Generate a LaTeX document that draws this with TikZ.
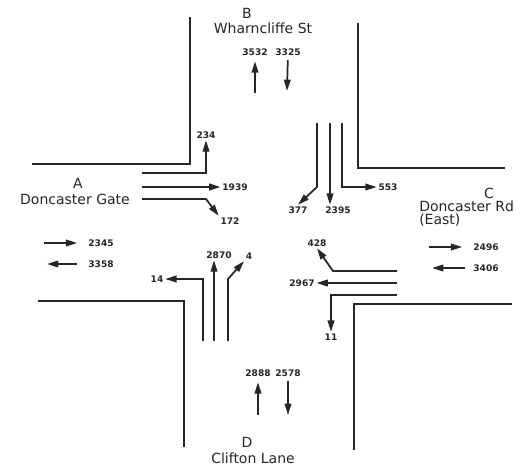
\documentclass[tikz,border=0pt]{standalone}
\usepackage{fontspec}
\setmainfont{DejaVu Sans}
\usetikzlibrary{arrows.meta}
\definecolor{cink}{HTML}{262626}
\tikzset{
  kerb/.style={line width=1.4pt, color=cink},
  flow/.style={-{Triangle[length=8.5pt,width=5pt]}, line width=1.3pt, color=cink},
  count/.style={inner sep=1.2pt, text=cink, font=\bfseries\fontsize{6.8}{8}\selectfont},
  roadname/.style={inner sep=0pt, text=cink, font=\fontsize{10.5}{12}\selectfont}
}

\begin{document}
\begin{tikzpicture}[x=0.75pt, y=-0.75pt]
    \useasboundingbox (0,0) rectangle (521,467);

    \draw[kerb] (190,17) -- (190,164) -- (32,164);
    \draw[kerb] (358,23) -- (358,168) -- (505,168);
    \draw[kerb] (38,301) -- (184,301) -- (184,447);
    \draw[kerb] (512,304) -- (354,304) -- (354,450);

    \node[roadname] (letA) at (78,183) {A};
    \node[roadname] (nameA) at (75,199) {Doncaster Gate};
    \node[roadname] (letB) at (247,13) {B};
    \node[roadname] (nameB) at (263,28) {Wharncliffe St};
    \node[roadname] (letC) at (489,193) {C};
    \node[roadname, anchor=west] (nameC) at (419,206) {Doncaster Rd};
    \node[roadname, anchor=west] (subC) at (419,220) {(East)};
    \node[roadname] (letD) at (247,442) {D};
    \node[roadname] (nameD) at (253,458) {Clifton Lane};

    \node[count] (ain) at (101,243) {2345};
    \node[count] (aout) at (101,264) {3358};
    \node[count] (bout) at (255,52) {3532};
    \node[count] (bin) at (288,52) {3325};
    \node[count] (cout) at (486,247) {2496};
    \node[count] (cin) at (486,268) {3406};
    \node[count] (din) at (258,373) {2888};
    \node[count] (dout) at (288,373) {2578};

    \node[count] (aleft) at (206,135) {234};
    \node[count] (aahead) at (235,187) {1939};
    \node[count] (aright) at (230,221) {172};
    \node[count] (bright) at (298,210) {377};
    \node[count] (bahead) at (338,210) {2395};
    \node[count] (bleft) at (388,187) {553};
    \node[count] (cright) at (317,243) {428};
    \node[count] (cahead) at (302,283) {2967};
    \node[count] (cleft) at (331,337) {11};
    \node[count] (dleft) at (157,279) {14};
    \node[count] (dahead) at (219,255) {2870};
    \node[count] (dright) at (249,256) {4};

    \coordinate (a1) at (142,173);
    \coordinate (a2) at (142,187);
    \coordinate (a3) at (142,199);
    \coordinate (b1) at (317,123);
    \coordinate (b2) at (330,123);
    \coordinate (b3) at (342,123);
    \coordinate (c1) at (397,271);
    \coordinate (c2) at (397,283);
    \coordinate (c3) at (397,295);
    \coordinate (d1) at (203,341);
    \coordinate (d2) at (214,341);
    \coordinate (d3) at (228,341);

    \coordinate (ain0) at (44,243);
    \coordinate (aout0) at (47,264);
    \coordinate (bout0) at (255,93);
    \coordinate (bin0) at (287,91);
    \coordinate (cout0) at (429,247);
    \coordinate (cin0) at (432,268);
    \coordinate (din0) at (258,415);
    \coordinate (dout0) at (288,415);

    \draw[flow] (a1) -| (aleft.south);
    \draw[flow] (a2) -- (aahead);
    \draw[flow] (a3) -- (206,199) -- (aright.north west);
    \draw[flow] (b1) -- (317,187) -- (bright.north);
    \draw[flow] (b2) -- (b2 |- bahead.north);
    \draw[flow] (b3) |- (bleft);
    \draw[flow] (c1) -- (333,271) -- (cright.south);
    \draw[flow] (c2) -- (cahead);
    \draw[flow] (c3) -| (cleft);
    \draw[flow] (d1) |- (dleft);
    \draw[flow] (d2) -- (d2 |- dahead.south);
    \draw[flow] (d3) -- (228,279) -- (dright.south west);

    \draw[flow, shorten >=7pt] (ain0) -- (ain);
    \draw[flow, shorten <=7pt] (aout) -- (aout0);
    \draw[flow, shorten >=3pt] (bout0) -- (bout);
    \draw[flow, shorten <=2pt] (bin) -- (bin0);
    \draw[flow, shorten >=7pt] (cout0) -- (cout);
    \draw[flow, shorten <=5pt] (cin) -- (cin0);
    \draw[flow, shorten >=3pt] (din0) -- (din);
    \draw[flow, shorten <=2pt] (dout) -- (dout0);
  \end{tikzpicture}
\end{document}
